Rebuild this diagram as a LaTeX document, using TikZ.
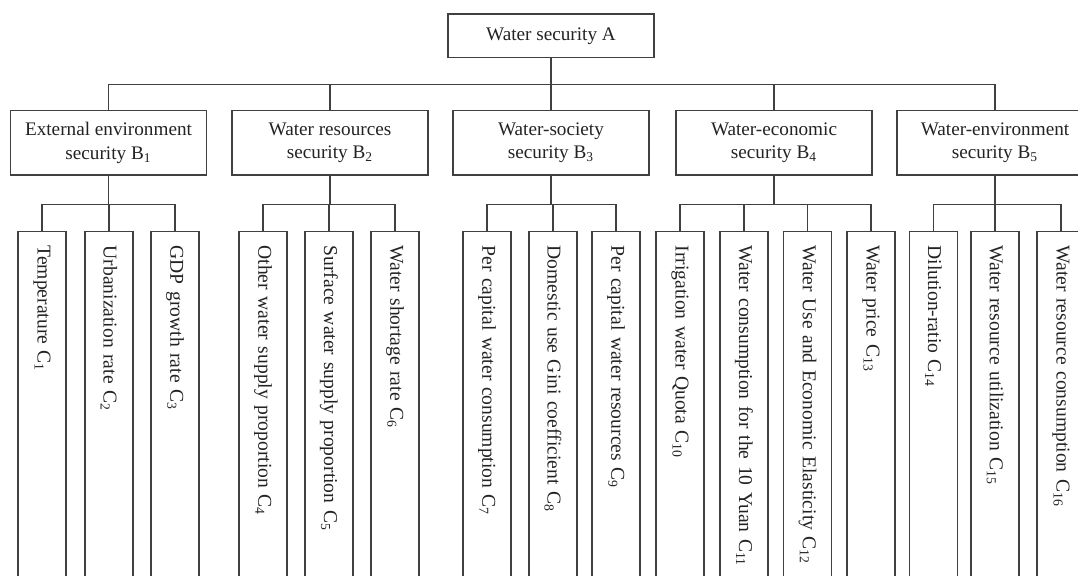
\documentclass[tikz,border=0pt]{standalone}
\usepackage{fontspec}
\setmainfont{Liberation Serif}
\definecolor{rule}{RGB}{64,64,64}
\definecolor{ink}{RGB}{35,35,35}
\tikzset{
	goalbox/.style={draw=rule, line width=0.6pt, text=ink, minimum width=103pt, minimum height=21.75pt, inner sep=0pt, font=\fontsize{9.6}{11.5}\selectfont},
	critbox/.style={draw=rule, line width=0.6pt, text=ink, minimum width=98pt, minimum height=32.25pt, inner sep=0pt, align=center, font=\fontsize{9.6}{11.75}\selectfont},
	indbox/.style={draw=rule, line width=0.6pt, text=ink, rotate=-90, anchor=west, minimum height=24pt, inner xsep=7pt, inner ysep=0pt, text width=186pt, align=left, font=\fontsize{9.8}{12}\selectfont},
	link/.style={draw=rule, line width=0.6pt}
}

\begin{document}
\begin{tikzpicture}[x=0.5pt, y=-0.5pt]
				\useasboundingbox (0,0) rectangle (1078,576);
				\clip (0,0) rectangle (1078,576); % boxes run off the page at the bottom and right
			
				\node[goalbox] (A) at (551,35.75) {Water security A};
			
				\node[critbox] (B1) at (108.5,142.85) {External environment\\security B\textsubscript{1}};
				\node[critbox] (B2) at (330,142.85) {Water resources\\security B\textsubscript{2}};
				\node[critbox] (B3) at (551,142.85) {Water-society\\security B\textsubscript{3}};
				\node[critbox] (B4) at (774,142.85) {Water-economic\\security B\textsubscript{4}};
				\node[critbox] (B5) at (995,142.85) {Water-environment\\security B\textsubscript{5}};
			
				\node[indbox] (C1) at (42,231) {Temperature C\textsubscript{1}};
				\node[indbox] (C2) at (109,231) {Urbanization rate C\textsubscript{2}};
				\node[indbox] (C3) at (175,231) {GDP growth rate C\textsubscript{3}};
				\node[indbox] (C4) at (263,231) {Other water supply proportion C\textsubscript{4}};
				\node[indbox] (C5) at (329,231) {Surface water supply proportion C\textsubscript{5}};
				\node[indbox] (C6) at (395,231) {Water shortage rate C\textsubscript{6}};
				\node[indbox] (C7) at (487,231) {Per capital water consumption C\textsubscript{7}};
				\node[indbox] (C8) at (553,231) {Domestic use Gini coefficient C\textsubscript{8}};
				\node[indbox] (C9) at (616,231) {Per capital water resources C\textsubscript{9}};
				\node[indbox] (C10) at (680,231) {Irrigation water Quota C\textsubscript{10}};
				\node[indbox] (C11) at (744,231) {Water consumption for the 10 Yuan C\textsubscript{11}};
				\node[indbox] (C12) at (807.5,231) {Water Use and Economic Elasticity C\textsubscript{12}};
				\node[indbox] (C13) at (871,231) {Water price C\textsubscript{13}};
				\node[indbox] (C14) at (933.5,231) {Dilution-ratio C\textsubscript{14}};
				\node[indbox] (C15) at (995,231) {Water resource utilization C\textsubscript{15}};
				\node[indbox] (C16) at (1061,231) {Water resource consumption C\textsubscript{16}};
			
				% first level
				\draw[link] (A.south) -- ++(0,26.5) -| (B1.north);
				\draw[link] (A.south) -- ++(0,26.5) -| (B2.north);
				\draw[link] (A.south) -- (B3.north);
				\draw[link] (A.south) -- ++(0,26.5) -| (B4.north);
				\draw[link] (A.south) -- ++(0,26.5) -| (B5.north);
			
				% second level
				\draw[link] (B1.south) -- ++(0,29) -| (C1.west);
				\draw[link] (B1.south) -- ++(0,29) -| (C2.west);
				\draw[link] (B1.south) -- ++(0,29) -| (C3.west);
				\draw[link] (B2.south) -- ++(0,29) -| (C4.west);
				\draw[link] (B2.south) -- ++(0,29) -| (C5.west);
				\draw[link] (B2.south) -- ++(0,29) -| (C6.west);
				\draw[link] (B3.south) -- ++(0,29) -| (C7.west);
				\draw[link] (B3.south) -- ++(0,29) -| (C8.west);
				\draw[link] (B3.south) -- ++(0,29) -| (C9.west);
				\draw[link] (B4.south) -- ++(0,29) -| (C10.west);
				\draw[link] (B4.south) -- ++(0,29) -| (C11.west);
				\draw[link] (B4.south) -- ++(0,29) -| (C12.west);
				\draw[link] (B4.south) -- ++(0,29) -| (C13.west);
				\draw[link] (B5.south) -- ++(0,29) -| (C14.west);
				\draw[link] (B5.south) -- ++(0,29) -| (C15.west);
				\draw[link] (B5.south) -- ++(0,29) -| (C16.west);
			
			\end{tikzpicture}
\end{document}
